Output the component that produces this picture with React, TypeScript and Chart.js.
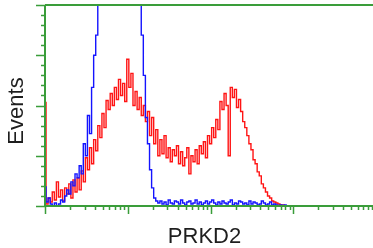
import React, { useEffect, useRef } from "react";
import { Chart, registerables } from "chart.js";

Chart.register(...registerables);

// Histogram bins: 40 channels per decade of fluorescence intensity, first bin at 1
const BINS_PER_DECADE = 40;

// Control (isotype) histogram — blue
const BLUE_COUNTS = [
  19, 4, 8, 2, 0, 3,
  0, 2, 6, 4, 10,
  16, 12, 24, 20, 32,
  28, 40, 32, 62, 50,
  90, 72, 118, 150, 170,
  230, 300, 340, 360, 380,
  400, 390, 410, 400, 420,
  410, 400, 390, 370, 360,
  340, 320, 290, 250, 215,
  210, 170, 130, 88, 62,
  36, 18, 8, 5, 3,
  5, 2, 4, 1, 6,
  3, 2, 5, 4, 2,
  6, 3, 1, 4, 5,
  2, 3, 6, 2, 4,
  1, 3, 5, 2, 4,
  6, 3, 1, 4, 2,
  5, 3, 2, 4, 6,
  1, 3, 2, 5, 4,
  2, 3, 1, 5, 2,
  4, 3, 1, 2, 5,
  3, 1, 2, 4, 1,
  2, 1, 0, 1, 0,
  1, 0, 0, 0, 0,
];

// PRKD2 stained histogram — red
const RED_COUNTS = [
  103, 2, 8, 4, 14, 6,
  24, 9, 16, 5, 18,
  12, 22, 8, 26, 14,
  28, 16, 35, 24, 48,
  36, 58, 42, 66, 55,
  80, 68, 92, 78, 105,
  96, 112, 100, 118, 106,
  126, 110, 122, 104, 146,
  118, 132, 100, 114, 96,
  108, 90, 100, 84, 94,
  70, 88, 62, 76, 50,
  66, 52, 70, 48, 58,
  44, 56, 50, 60, 42,
  54, 40, 48, 58, 32,
  50, 44, 56, 42, 60,
  52, 64, 48, 70, 62,
  78, 68, 86, 76, 104,
  96, 112, 100, 50, 118,
  108, 116, 98, 106, 94,
  84, 78, 70, 62, 56,
  46, 42, 34, 30, 22,
  18, 14, 10, 8, 5,
  4, 3, 2, 1, 1,
  0, 0, 0, 0, 0,
];

const DECADES = [1, 10, 100, 1000];
const X_MIN = 1;
const X_MAX = 9150;
const Y_MIN = 0;
const Y_MAX = 200;
const Y_MINOR_STEP = 10;
const Y_MAJOR_STEP = 50;
const X_TITLE = "PRKD2";
const Y_TITLE = "Events";

const GREEN = "#3a9d3a";
const RED = "#ff1414";
const BLUE = "#1414ff";

const toPoints = (counts: number[]) =>
  counts.map((c, i) => ({ x: Math.pow(10, i / BINS_PER_DECADE), y: c }));

const axesPlugin = {
  id: "facsAxes",
  afterDraw(chart: any) {
    const ctx = chart.ctx;
    const xs = chart.scales.x;
    const ys = chart.scales.y;
    const { left, right, top, bottom } = chart.chartArea;
    ctx.save();
    ctx.strokeStyle = GREEN;
    ctx.lineWidth = 2;
    ctx.beginPath();
    ctx.moveTo(left, top);
    ctx.lineTo(right, top);
    ctx.moveTo(left, top);
    ctx.lineTo(left, bottom);
    ctx.moveTo(left - 1, bottom);
    ctx.lineTo(right, bottom);
    ctx.stroke();

    ctx.lineWidth = 1.5;
    ctx.beginPath();
    for (let v = Y_MIN; v <= Y_MAX; v += Y_MINOR_STEP) {
      const y = Math.round(ys.getPixelForValue(v)) + 0.5;
      const major = v % Y_MAJOR_STEP === 0;
      ctx.moveTo(left, y);
      ctx.lineTo(left - (major ? 9 : 4), y);
    }
    for (const d of DECADES) {
      for (let k = 1; k <= 9; k++) {
        const v = d * k;
        if (v > X_MAX) continue;
        const x = Math.round(xs.getPixelForValue(v)) + 0.5;
        ctx.moveTo(x, bottom);
        ctx.lineTo(x, bottom + (k === 1 ? 8 : 4));
      }
    }
    ctx.stroke();

    ctx.fillStyle = "#1e1e1e";
    ctx.font = '22px "Liberation Sans", Arial, sans-serif';
    ctx.textAlign = "center";
    ctx.textBaseline = "alphabetic";
    ctx.fillText(X_TITLE, 204.5, 243);
    ctx.translate(23, 111);
    ctx.rotate(-Math.PI / 2);
    ctx.fillText(Y_TITLE, 0, 0);
    ctx.restore();
  },
};

export default function App() {
  const ref = useRef<HTMLCanvasElement>(null);
  useEffect(() => {
    document.body.style.margin = "0";
    const chart = new Chart(ref.current!, {
      type: "line",
      data: {
        datasets: [
          {
            label: "Control",
            data: toPoints(BLUE_COUNTS),
            borderColor: BLUE,
            borderWidth: 1.4,
            pointRadius: 0,
            stepped: "middle",
            fill: false,
          },
          {
            label: "PRKD2",
            data: toPoints(RED_COUNTS),
            borderColor: RED,
            borderWidth: 1.4,
            pointRadius: 0,
            stepped: "middle",
            fill: false,
          },
        ],
      },
      options: {
        animation: false,
        responsive: false,
        maintainAspectRatio: false,
        layout: { padding: { left: 45, top: 5, right: 0, bottom: 42 } },
        plugins: { legend: { display: false }, tooltip: { enabled: false } },
        scales: {
          x: { type: "logarithmic", min: X_MIN, max: X_MAX, display: false },
          y: { type: "linear", min: Y_MIN, max: Y_MAX, display: false },
        },
      },
      plugins: [axesPlugin],
    });
    return () => chart.destroy();
  }, []);
  return (
    <div style={{ position: "fixed", left: 0, top: 0, width: 373, height: 248, background: "#fff" }}>
      <canvas ref={ref} width={373} height={248} />
    </div>
  );
}
